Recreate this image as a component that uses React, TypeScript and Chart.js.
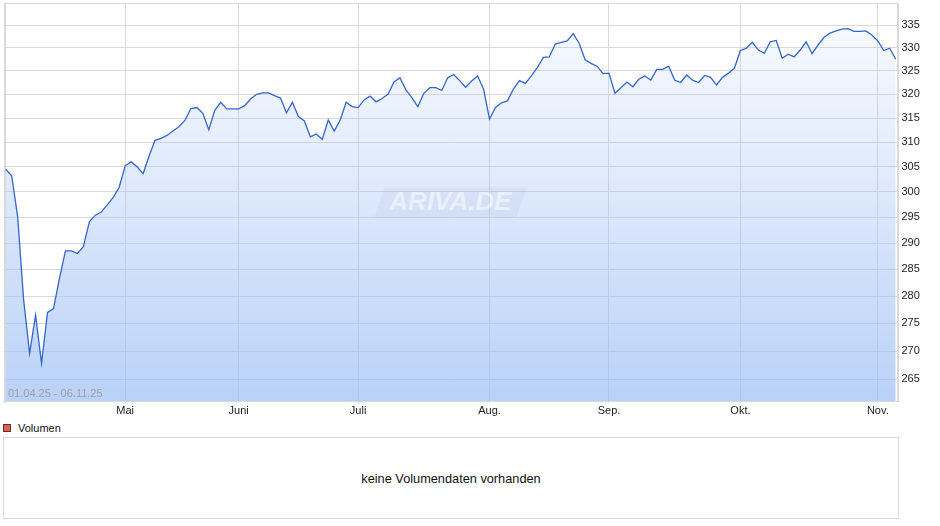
import { useEffect, useRef } from "react";
import { Chart, registerables } from "chart.js";

Chart.register(...registerables);

// daily closing prices 01.04.25 - 06.11.25
const prices = [
  304.5, 303.2, 295.1, 279.3, 269.6, 276.5, 267.8, 277.0, 277.7, 283.3,
  288.5, 288.5, 288.0, 289.3, 294.1, 295.4, 296.0, 297.4, 298.9, 300.9,
  305.2, 306.0, 305.0, 303.6, 307.2, 310.4, 310.8, 311.4, 312.3, 313.2,
  314.5, 317.0, 317.2, 316.0, 312.6, 316.6, 318.3, 316.9, 316.9, 316.9,
  317.6, 319.0, 320.0, 320.3, 320.3, 319.7, 319.2, 316.1, 318.3, 315.3,
  314.4, 311.1, 311.7, 310.6, 314.6, 312.3, 314.6, 318.3, 317.4, 317.2,
  318.8, 319.6, 318.4, 319.1, 320.0, 322.6, 323.5, 320.9, 319.3, 317.4,
  320.2, 321.4, 321.4, 320.8, 323.5, 324.2, 322.9, 321.5, 322.8, 323.9,
  321.1, 314.8, 317.2, 318.2, 318.6, 321.1, 322.9, 322.3, 323.9, 325.7,
  327.9, 328.0, 330.8, 331.2, 331.5, 333.1, 331.0, 327.4, 326.6, 326.0,
  324.4, 324.5, 320.2, 321.4, 322.6, 321.6, 323.2, 323.9, 323.0, 325.3,
  325.3, 326.0, 323.0, 322.5, 324.1, 323.0, 322.5, 324.0, 323.6, 322.0,
  323.6, 324.5, 325.6, 329.4, 329.9, 331.2, 329.5, 328.8, 331.3, 331.6,
  327.7, 328.6, 328.0, 329.5, 331.3, 328.7, 330.6, 332.3, 333.2, 333.7,
  334.1, 334.2, 333.6, 333.6, 333.7, 332.8, 331.5, 329.4, 329.9, 327.5,
];

// index of the first trading day of each month
const monthTicks = [0, 20, 39, 59, 81, 101, 123, 146];
const monthLabels = ["", "Mai", "Juni", "Juli", "Aug.", "Sep.", "Okt.", "Nov."];
const priceTicks = [265, 270, 275, 280, 285, 290, 295, 300, 305, 310, 315, 320, 325, 330, 335];
const dateRange = "01.04.25 - 06.11.25";

const FONT = '"Liberation Sans", Arial, sans-serif';

const decoPlugin = {
  id: "deco",
  afterDatasetsDraw(chart: any) {
    const { ctx, chartArea } = chart;
    const cx = (chartArea.left + chartArea.right) / 2;
    const cy = (chartArea.top + chartArea.bottom) / 2;
    ctx.save();
    // watermark
    ctx.fillStyle = "rgba(160,180,210,0.13)";
    ctx.beginPath();
    ctx.moveTo(cx - 66, cy - 15);
    ctx.lineTo(cx + 76, cy - 15);
    ctx.lineTo(cx + 66, cy + 15);
    ctx.lineTo(cx - 76, cy + 15);
    ctx.closePath();
    ctx.fill();
    ctx.font = `italic bold 26px ${FONT}`;
    ctx.fillStyle = "rgba(255,255,255,0.5)";
    ctx.textAlign = "center";
    ctx.textBaseline = "middle";
    ctx.fillText("ARIVA.DE", cx, cy + 1);
    // date range
    ctx.font = `11px ${FONT}`;
    ctx.fillStyle = "#a0a0a0";
    ctx.textAlign = "left";
    ctx.fillText(dateRange, chartArea.left + 4.5, chartArea.bottom - 7);
    // frame
    ctx.strokeStyle = "#d9d9d9";
    ctx.lineWidth = 1;
    ctx.strokeRect(Math.round(chartArea.left) + 0.5, Math.round(chartArea.top) + 0.5,
      Math.round(chartArea.right - chartArea.left), Math.round(chartArea.bottom - chartArea.top));
    ctx.restore();
  },
};

export default function App() {
  const chartRef = useRef<HTMLCanvasElement>(null);
  const chartInstance = useRef<Chart | null>(null);

  useEffect(() => {
    if (!chartRef.current) return;
    const ctx = chartRef.current.getContext("2d");
    if (!ctx) return;
    if (chartInstance.current) chartInstance.current.destroy();

    chartInstance.current = new Chart(ctx, {
      type: "line",
      data: {
        datasets: [
          {
            label: "Kurs",
            data: prices.map((v, i) => ({ x: i, y: v })),
            borderColor: "#3366cc",
            borderWidth: 1.3,
            pointRadius: 0,
            tension: 0,
            fill: "start",
            backgroundColor: (c: any) => {
              const { chartArea } = c.chart;
              if (!chartArea) return "rgba(160,193,245,0.3)";
              const g = c.chart.ctx.createLinearGradient(0, chartArea.top, 0, chartArea.bottom);
              g.addColorStop(0, "rgba(170,198,248,0.06)");
              g.addColorStop(1, "rgba(158,191,244,0.72)");
              return g;
            },
          },
        ],
      },
      options: {
        animation: false,
        responsive: true,
        maintainAspectRatio: false,
        layout: { padding: { left: 3.5, top: 3.3, right: 0, bottom: 0 } },
        plugins: {
          legend: { display: false },
          tooltip: { enabled: false },
        },
        scales: {
          x: {
            type: "linear",
            min: -0.37,
            max: 149.3,
            afterBuildTicks: (s: any) => {
              s.ticks = monthTicks.map((v) => ({ value: v }));
            },
            afterFit: (s: any) => {
              s.height = 18.7;
              s.paddingLeft = 0;
              s.paddingRight = 0;
            },
            ticks: {
              autoSkip: false,
              maxRotation: 0,
              padding: 1,
              color: "#222",
              font: { family: FONT, size: 11 },
              callback: (v: any) => {
                const k = monthTicks.indexOf(Number(v));
                return k >= 0 ? monthLabels[k] : "";
              },
            },
            grid: { color: "#d9d9d9", tickLength: 2 },
            border: { color: "#d9d9d9" },
          },
          y: {
            type: "logarithmic",
            position: "right",
            min: 261.17,
            max: 339.85,
            afterBuildTicks: (s: any) => {
              s.ticks = priceTicks.map((v) => ({ value: v }));
            },
            afterFit: (s: any) => {
              s.width = 42.5;
              s.paddingTop = 0;
              s.paddingBottom = 0;
            },
            ticks: {
              autoSkip: false,
              padding: 4,
              color: "#222",
              font: { family: FONT, size: 11 },
              callback: (v: any) => String(v),
            },
            grid: { color: "#d9d9d9", drawTicks: false },
            border: { color: "#d9d9d9" },
          },
        },
      },
      plugins: [decoPlugin],
    });

    return () => {
      if (chartInstance.current) {
        chartInstance.current.destroy();
        chartInstance.current = null;
      }
    };
  }, []);

  return (
    <div style={{ position: "absolute", left: 0, top: 0, width: 940, height: 526, background: "#fff", fontFamily: FONT }}>
      <div style={{ position: "absolute", left: 0, top: 0, width: 940, height: 420 }}>
        <canvas ref={chartRef}></canvas>
      </div>
      <div
        style={{
          position: "absolute", left: 3, top: 424, width: 6, height: 6,
          background: "#d9655a", border: "1px solid #6b2a25",
        }}
      />
      <div style={{ position: "absolute", left: 18, top: 421, fontSize: 11, lineHeight: "14px", color: "#111" }}>
        Volumen
      </div>
      <div
        style={{
          position: "absolute", left: 3, top: 437, width: 894, height: 80,
          border: "1px solid #dcdcdc", display: "flex", alignItems: "center",
          justifyContent: "center", fontSize: 12.75, color: "#111",
        }}
      >
        keine Volumendaten vorhanden
      </div>
    </div>
  );
}
